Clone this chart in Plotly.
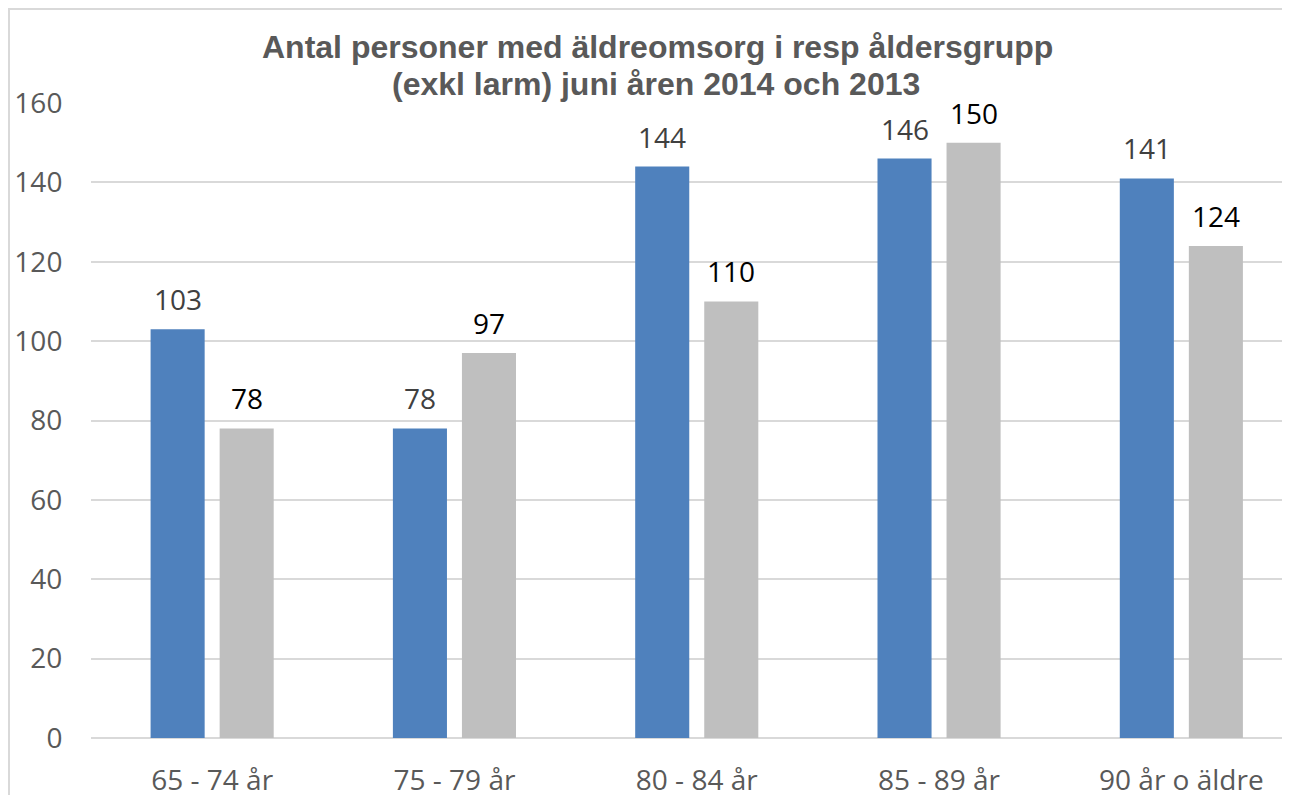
import plotly.graph_objects as go

categories = ["65 - 74 år", "75 - 79 år", "80 - 84 år", "85 - 89 år", "90 år o äldre"]
values_2014 = [103, 78, 144, 146, 141]
values_2013 = [78, 97, 110, 150, 124]
y_ticks = [0, 20, 40, 60, 80, 100, 120, 140, 160]

FONT = "Open Sans"
# the page body has an 8px margin, so the figure is laid out in page pixels minus 8
OFF = 8
W, H = 1290, 795
L = 91 - OFF
T = 103 - OFF
B = H - (738 - OFF)
R = 0
plot_w = W - L - R
plot_h = H - T - B
x_end = -0.5 + (W + OFF - 91) / 242.3

fig = go.Figure()
fig.add_trace(go.Bar(
    x=categories, y=values_2014, name="2014",
    marker=dict(color="#4F81BD", line=dict(width=0)),
))
fig.add_trace(go.Bar(
    x=categories, y=values_2013, name="2013",
    marker=dict(color="#BFBFBF", line=dict(width=0)),
))

annotations = []
for cat, v in zip(categories, values_2014):
    annotations.append(dict(x=cat, y=v, text=str(v), showarrow=False,
                            xshift=-34.5, yshift=30, yanchor="middle",
                            font=dict(family=FONT, size=28, color="#404040")))
for cat, v in zip(categories, values_2013):
    annotations.append(dict(x=cat, y=v, text=str(v), showarrow=False,
                            xshift=34.5, yshift=30, yanchor="middle",
                            font=dict(family=FONT, size=28, color="#000000")))

annotations += [
    dict(text="<b>Antal personer med äldreomsorg i resp åldersgrupp</b>",
         xref="paper", yref="paper",
         x=(657 - 91) / plot_w, y=(738 - 47) / plot_h,
         xanchor="center", yanchor="middle", showarrow=False,
         font=dict(family="Liberation Sans", size=32, color="#595959")),
    dict(text="<b>(exkl larm) juni åren 2014 och 2013</b>",
         xref="paper", yref="paper",
         x=(656 - 91) / plot_w, y=(738 - 84) / plot_h,
         xanchor="center", yanchor="middle", showarrow=False,
         font=dict(family="Liberation Sans", size=32, color="#595959")),
]

fig.update_layout(
    width=W, height=H,
    margin=dict(l=L, r=R, t=T, b=B, pad=0, autoexpand=False),
    paper_bgcolor="white", plot_bgcolor="white",
    showlegend=False,
    barmode="group", bargap=0.43, bargroupgap=0.217,
    font=dict(family=FONT, color="#595959"),
    xaxis=dict(
        range=[-0.5, x_end], showgrid=False, zeroline=False, automargin=False,
        showline=False, ticks="outside", ticklen=17, tickcolor="rgba(0,0,0,0)",
        tickfont=dict(family=FONT, size=28, color="#595959"),
    ),
    yaxis=dict(
        range=[0, 160], tickvals=y_ticks, showgrid=True, automargin=False,
        gridcolor="#D9D9D9", gridwidth=2, zeroline=True, zerolinecolor="#D9D9D9",
        zerolinewidth=2, showline=False, ticks="outside", ticklen=22,
        tickcolor="rgba(0,0,0,0)",
        tickfont=dict(family=FONT, size=28, color="#595959"),
    ),
    annotations=annotations,
    shapes=[
        dict(type="rect", xref="paper", yref="paper",
             x0=(9 - 91) / plot_w, x1=1.2,
             y0=-0.3, y1=(738 - 9) / plot_h,
             line=dict(color="#D9D9D9", width=2), fillcolor="rgba(0,0,0,0)",
             layer="below"),
    ],
)

fig.write_html("out.html")
